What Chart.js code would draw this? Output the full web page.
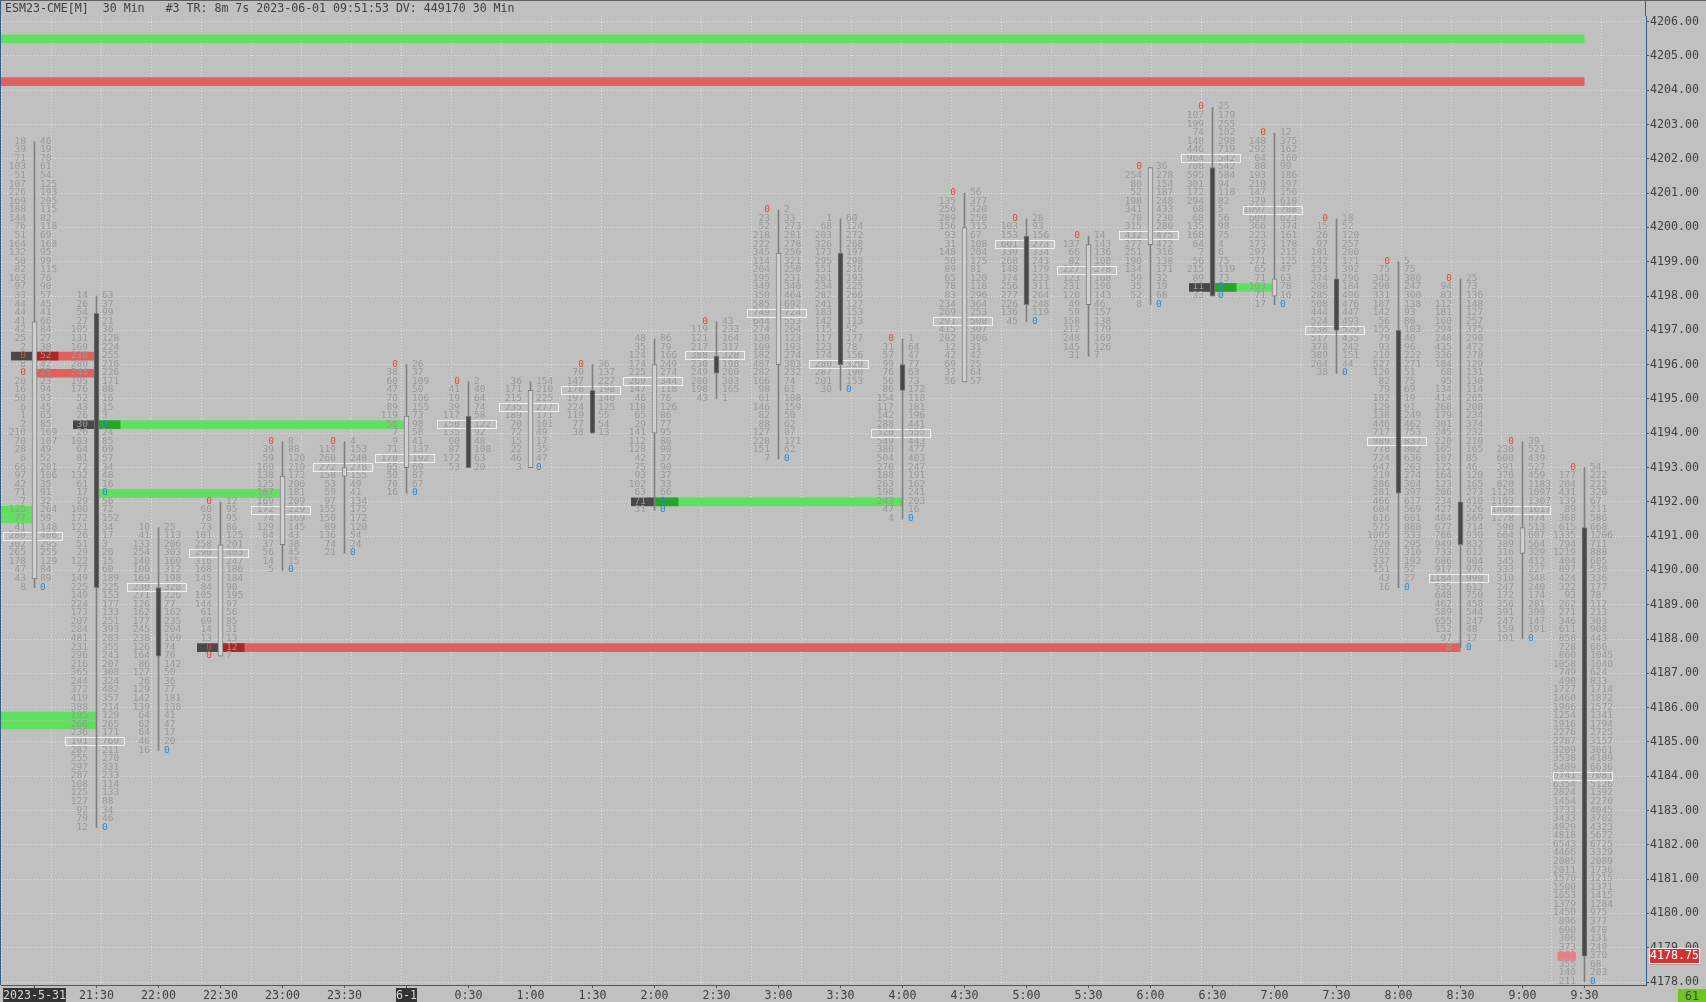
<!DOCTYPE html>
<html>
<head>
    <title>ESM23 Footprint</title>
    <script src="https://cdnjs.cloudflare.com/ajax/libs/Chart.js/4.4.1/chart.umd.js"></script>
    <style>
        html, body { margin: 0; padding: 0; background: #c0c0c0; overflow: hidden; }
        canvas { display: block; }
    </style>
</head>
<body>
    <canvas id="myChart" width="1706" height="1002"></canvas>

    <script>
        var headerText = 'ESM23-CME[M]  30 Min   #3 TR: 8m 7s 2023-06-01 09:51:53 DV: 449170 30 Min';
        var lastPrice = 4178.75;
        var lastLabel = '4178.75';
        var counterLabel = '61';

        var timeLabels = ['2023-5-31', '21:30', '22:00', '22:30', '23:00', '23:30', '6-1', '0:30', '1:00', '1:30', '2:00', '2:30', '3:00',
            '3:30', '4:00', '4:30', '5:00', '5:30', '6:00', '6:30', '7:00', '7:30', '8:00', '8:30', '9:00', '9:30'];

        // price of the first row of each bar, rows go down a quarter point each
        var highPrice = [4202.5, 4198, 4191.25, 4192, 4193.75, 4193.75, 4196, 4195.5, 4195.5, 4196, 4196.75, 4197.25, 4200.5,
            4200.25, 4196.75, 4201, 4200.25, 4199.75, 4201.75, 4203.5, 4202.75, 4200.25, 4199, 4198.5, 4193.75, 4193];
        var openPrice = [4189.75, 4197.5, 4189.5, 4187.5, 4190.75, 4192.75, 4193, 4194.5, 4193, 4195.25, 4194, 4196.25, 4196,
            4199.25, 4196, 4195.5, 4199.75, 4197.75, 4199.5, 4201.75, 4198, 4198.5, 4197, 4192, 4190.5, 4191.25];
        var closePrice = [4197.25, 4189.5, 4187.5, 4190.75, 4192.75, 4193, 4194.5, 4193, 4195.25, 4194, 4196, 4195.75, 4199.25,
            4196, 4195.25, 4200, 4197.75, 4199.5, 4201.75, 4198, 4198.5, 4197, 4192.25, 4190.75, 4191.25, 4178.75];
        var pocPrice = [4191, 4185, 4189.5, 4190.5, 4191.75, 4193, 4193.25, 4194.25, 4194.75, 4195.25, 4195.5, 4196.25, 4197.5,
            4196, 4194, 4197.25, 4199.5, 4198.75, 4199.75, 4202, 4200.5, 4197, 4193.75, 4189.75, 4191.75, 4184];

        var bids = [
            [18, 39, 71, 103, 51, 107, 226, 169, 188, 144, 76, 51, 164, 132, 50, 82, 103, 97, 33, 44, 44, 41, 42, 25, 2, 0, 8, 0, 20, 16, 50, 6, 1, 2, 210, 70, 28, 6, 66, 97, 42, 71, 7, 125, 77, 41, 280, 302, 265, 178, 47, 43, 8],
            [14, 26, 54, 27, 105, 131, 169, 238, 280, 244, 195, 176, 52, 43, 26, 30, 26, 103, 64, 81, 72, 132, 61, 17, 29, 100, 172, 121, 26, 51, 29, 122, 77, 149, 225, 149, 224, 173, 207, 284, 481, 231, 296, 216, 365, 244, 372, 419, 388, 195, 266, 236, 191, 287, 255, 297, 287, 108, 125, 127, 92, 79, 12],
            [10, 41, 133, 254, 140, 100, 169, 230, 271, 126, 162, 177, 245, 238, 126, 164, 86, 127, 26, 129, 142, 139, 64, 62, 64, 46, 16],
            [0, 60, 78, 73, 101, 258, 290, 316, 168, 145, 84, 105, 144, 61, 69, 14, 13, 0, 0],
            [0, 39, 59, 160, 138, 125, 187, 169, 172, 74, 129, 84, 37, 56, 14, 5],
            [0, 119, 260, 272, 158, 53, 59, 97, 155, 150, 89, 136, 74, 21],
            [0, 38, 60, 47, 70, 89, 119, 56, 7, 9, 71, 170, 65, 50, 70, 16],
            [0, 41, 19, 39, 117, 150, 135, 60, 87, 172, 53],
            [36, 171, 215, 235, 189, 70, 72, 15, 22, 46, 3],
            [0, 79, 147, 178, 197, 224, 119, 77, 38],
            [48, 35, 124, 174, 225, 269, 147, 46, 118, 65, 29, 141, 112, 128, 42, 75, 93, 102, 63, 71, 31],
            [0, 119, 121, 217, 388, 230, 249, 280, 198, 43],
            [0, 23, 52, 218, 222, 345, 114, 204, 195, 349, 350, 585, 749, 644, 274, 130, 109, 182, 487, 282, 166, 98, 61, 146, 82, 88, 127, 220, 151, 7],
            [1, 68, 203, 326, 173, 295, 151, 201, 234, 282, 241, 183, 142, 115, 117, 123, 174, 280, 287, 201, 30],
            [0, 31, 57, 99, 76, 56, 86, 154, 117, 142, 288, 520, 549, 380, 504, 270, 188, 263, 198, 243, 47, 4],
            [0, 135, 256, 289, 156, 93, 31, 148, 50, 89, 65, 78, 83, 234, 269, 291, 415, 202, 12, 42, 69, 37, 56],
            [0, 103, 153, 601, 339, 268, 148, 374, 256, 277, 226, 136, 45],
            [0, 137, 66, 82, 227, 123, 231, 120, 49, 59, 158, 212, 248, 145, 31],
            [0, 254, 80, 52, 198, 341, 70, 315, 432, 277, 251, 190, 134, 59, 35, 52, 8],
            [0, 107, 199, 74, 148, 446, 964, 708, 595, 301, 172, 294, 68, 68, 135, 168, 64, 7, 56, 215, 89, 11, 33],
            [0, 148, 292, 64, 80, 193, 210, 147, 379, 1097, 609, 366, 223, 173, 297, 271, 65, 71, 103, 71, 17],
            [0, 15, 26, 97, 181, 142, 253, 374, 208, 285, 508, 444, 524, 538, 517, 378, 389, 204, 38],
            [0, 75, 345, 290, 331, 187, 142, 56, 155, 79, 93, 210, 527, 120, 82, 79, 182, 129, 138, 446, 717, 989, 778, 724, 647, 219, 286, 281, 466, 604, 616, 575, 1005, 720, 292, 337, 151, 43, 16],
            [0, 94, 83, 112, 181, 160, 294, 248, 435, 336, 184, 68, 95, 134, 414, 268, 179, 301, 245, 220, 165, 107, 122, 164, 123, 206, 234, 427, 484, 677, 766, 949, 733, 686, 917, 1184, 535, 648, 462, 589, 655, 152, 97, 8],
            [0, 230, 600, 391, 370, 820, 1128, 1103, 1460, 1278, 590, 664, 389, 316, 345, 333, 310, 247, 172, 356, 391, 247, 159, 191],
            [0, 177, 204, 431, 139, 89, 368, 615, 1335, 794, 1219, 404, 897, 424, 322, 93, 262, 271, 346, 611, 858, 728, 860, 1058, 749, 490, 1727, 1460, 1986, 1254, 1916, 2276, 2787, 3209, 3538, 5489, 6741, 6354, 2824, 1454, 3733, 3433, 4929, 4818, 6543, 4466, 2085, 2011, 1570, 1500, 1653, 1379, 1450, 896, 690, 306, 373, 561, 355, 140, 211]
        ];

        var asks = [
            [46, 19, 70, 61, 54, 125, 193, 205, 115, 82, 118, 69, 168, 95, 99, 115, 76, 90, 57, 45, 41, 66, 84, 27, 30, 52, 42, 25, 23, 94, 93, 45, 65, 85, 169, 107, 49, 52, 201, 106, 35, 91, 32, 264, 59, 148, 406, 295, 255, 129, 84, 89, 0],
            [63, 37, 99, 21, 36, 128, 224, 255, 216, 226, 171, 88, 16, 15, 3, 0, 24, 85, 69, 57, 34, 48, 16, 0, 56, 72, 152, 34, 17, 3, 26, 15, 60, 189, 225, 153, 177, 133, 251, 393, 283, 355, 243, 207, 308, 324, 482, 357, 214, 129, 265, 171, 769, 211, 270, 331, 233, 114, 133, 88, 34, 46, 0],
            [25, 113, 206, 303, 160, 312, 198, 328, 226, 77, 162, 235, 204, 169, 74, 76, 142, 50, 36, 77, 181, 138, 41, 47, 17, 20, 0],
            [12, 95, 95, 86, 125, 201, 403, 247, 186, 184, 90, 195, 97, 56, 85, 31, 13, 12, 7],
            [8, 88, 120, 210, 172, 206, 181, 209, 229, 169, 145, 43, 38, 45, 15, 0],
            [4, 153, 248, 278, 155, 49, 41, 134, 175, 172, 120, 54, 24, 0],
            [26, 37, 109, 50, 106, 155, 73, 98, 58, 41, 137, 192, 69, 87, 67, 0],
            [2, 40, 64, 74, 58, 122, 92, 48, 108, 63, 20],
            [154, 210, 225, 277, 171, 101, 49, 17, 35, 47, 0],
            [36, 137, 227, 198, 140, 125, 55, 54, 13],
            [86, 79, 166, 249, 274, 344, 118, 76, 126, 86, 77, 95, 80, 90, 37, 90, 37, 33, 66, 0, 0],
            [43, 233, 164, 317, 328, 198, 260, 303, 165, 1],
            [2, 33, 273, 281, 278, 250, 321, 250, 231, 340, 464, 692, 724, 553, 264, 123, 193, 274, 303, 232, 74, 61, 188, 159, 50, 62, 87, 171, 62, 0],
            [60, 124, 272, 268, 197, 298, 216, 193, 225, 266, 127, 153, 113, 52, 177, 78, 156, 329, 190, 153, 0],
            [1, 64, 47, 77, 63, 73, 172, 118, 181, 196, 441, 555, 443, 477, 403, 247, 191, 162, 241, 203, 16, 0],
            [56, 377, 320, 250, 315, 67, 108, 204, 175, 81, 120, 118, 296, 364, 253, 500, 307, 306, 31, 42, 25, 64, 57],
            [28, 93, 156, 273, 334, 243, 179, 233, 311, 264, 248, 119, 0],
            [14, 143, 136, 108, 278, 168, 196, 143, 46, 157, 138, 179, 169, 126, 7],
            [36, 278, 154, 187, 248, 433, 230, 280, 475, 472, 316, 138, 171, 32, 19, 68, 0],
            [25, 179, 255, 102, 298, 719, 542, 542, 584, 94, 118, 82, 5, 56, 98, 75, 4, 6, 75, 119, 73, 0, 0],
            [12, 375, 162, 160, 99, 186, 197, 156, 610, 788, 623, 374, 161, 178, 215, 125, 47, 63, 78, 16, 0],
            [18, 52, 120, 257, 200, 171, 392, 296, 184, 496, 476, 447, 493, 529, 435, 242, 151, 44, 0],
            [5, 75, 380, 247, 300, 138, 93, 80, 103, 40, 96, 222, 271, 51, 75, 69, 19, 91, 249, 462, 753, 837, 802, 636, 263, 274, 304, 397, 617, 569, 661, 888, 533, 295, 310, 192, 52, 27, 0],
            [25, 73, 136, 148, 127, 257, 375, 290, 472, 278, 129, 131, 130, 114, 265, 208, 234, 374, 232, 210, 165, 85, 46, 120, 165, 273, 410, 526, 569, 714, 930, 832, 612, 904, 976, 990, 613, 750, 458, 544, 247, 48, 17, 0],
            [39, 521, 439, 527, 459, 1183, 1097, 1307, 1617, 874, 513, 607, 564, 329, 412, 227, 348, 240, 174, 281, 399, 147, 191, 0],
            [54, 222, 222, 320, 67, 211, 586, 668, 1206, 711, 888, 605, 530, 336, 177, 78, 112, 213, 303, 908, 443, 666, 1045, 1040, 624, 833, 1714, 1872, 1572, 1341, 1794, 2725, 3157, 3661, 4189, 6636, 7081, 5126, 1392, 2270, 4045, 3702, 4323, 5672, 6725, 3329, 2089, 1736, 1215, 1371, 1415, 1284, 975, 377, 470, 131, 249, 370, 68, 203, 0]
        ];

        // open levels: price, bar it starts from (-1 = left edge), bar it ends on
        var levelPrice = [4205.5, 4204.25, 4191.75, 4191.5, 4185.75, 4185.5, 4196.25, 4195.75, 4194.25, 4192.25, 4187.75, 4192, 4198.25];
        var levelFrom = [-1, -1, -1, -1, -1, -1, 0, 0, 1, 1, 3, 10, 19];
        var levelTo = [25, 25, 0, 0, 1, 1, 1, 1, 6, 4, 23, 14, 20];
        var levelSide = ['buy', 'sell', 'buy', 'buy', 'buy', 'buy', 'sell', 'sell', 'buy', 'buy', 'sell', 'buy', 'buy'];

        // bars where a level was born, these cells get the dark fill
        var originBar = [0, 1, 3, 10, 19];
        var originPrice = [4196.25, 4194.25, 4187.75, 4192, 4198.25];
        var originSide = ['sell', 'buy', 'sell', 'buy', 'buy'];

        var AXIS_BLUE = '#2f5f8a';
        var CELL_FONT = '9.5px "DejaVu Sans Mono"';
        var AXIS_FONT = { family: 'DejaVu Sans Mono', size: 11.6 };
        var xMin = (1 - 34.5) / 62;
        var xMax = (1646 - 34.5) / 62;

        function wickData() {
            return highPrice.map(function (high, i) {
                return { x: i, y: [high - (bids[i].length - 1) * 0.25, high] };
            });
        }

        function bodyData() {
            return openPrice.map(function (open, i) {
                return { x: i, y: [open, closePrice[i]] };
            });
        }

        var levelSets = levelPrice.map(function (price, i) {
            return {
                type: 'line',
                label: 'level' + i,
                data: [
                    { x: levelFrom[i] < 0 ? xMin : levelFrom[i], y: price },
                    { x: levelTo[i], y: price }
                ],
                borderColor: levelSide[i] === 'buy' ? '#60e060' : '#e06060',
                borderWidth: 8.7,
                borderCapStyle: 'butt',
                pointRadius: 0,
                order: 5
            };
        });

        // Footprint cells: dark origin cells, numbers and the POC boxes, painted under the candles
        var cellPlugin = {
            id: 'cells',
            beforeDatasetDraw: function (chart, args) {
                if (chart.data.datasets[args.index].label !== 'wick') return;
                var ctx = chart.ctx;
                var xs = chart.scales.x;
                var ys = chart.scales.y;
                ctx.save();

                originBar.forEach(function (bar, i) {
                    var cx = xs.getPixelForValue(bar);
                    var y = ys.getPixelForValue(originPrice[i]);
                    ctx.fillStyle = '#484848';
                    ctx.fillRect(cx - 23.5, y - 4.35, 23.5, 8.7);
                    ctx.fillStyle = originSide[i] === 'buy' ? '#28a428' : '#a82828';
                    ctx.fillRect(cx + 0.5, y - 4.35, 23.5, 8.7);
                });

                // last traded row of the running bar
                var lastY = ys.getPixelForValue(lastPrice);
                var lastX = xs.getPixelForValue(25);
                ctx.fillStyle = '#f08080';
                ctx.fillRect(lastX - 27, lastY - 4.35, 18.5, 8.7);

                ctx.font = CELL_FONT;
                ctx.textBaseline = 'middle';
                bids.forEach(function (col, i) {
                    var cx = xs.getPixelForValue(i);
                    col.forEach(function (bid, r) {
                        // whole pixel rows keep the small digits crisp
                        var y = Math.round(ys.getPixelForValue(highPrice[i] - r * 0.25));
                        ctx.textAlign = 'right';
                        ctx.fillStyle = bid === 0 ? '#e04a3c' : '#999999';
                        ctx.fillText(String(bid), cx - 8.5, y);
                        ctx.textAlign = 'left';
                        ctx.fillStyle = asks[i][r] === 0 ? '#2a8cd2' : '#999999';
                        ctx.fillText(String(asks[i][r]), cx + 5.5, y);
                    });
                });

                ctx.strokeStyle = '#f0f0f0';
                ctx.lineWidth = 1;
                pocPrice.forEach(function (price, i) {
                    var cx = xs.getPixelForValue(i);
                    var y = ys.getPixelForValue(price);
                    ctx.strokeRect(Math.round(cx - 31.5) + 0.5, Math.round(y - 4.6) + 0.5, 59, 8);
                });
                ctx.restore();
            },
            afterDraw: function (chart) {
                var ctx = chart.ctx;
                var ys = chart.scales.y;
                ctx.save();

                // frame and header
                ctx.fillStyle = AXIS_BLUE;
                ctx.fillRect(0, 0, 1, 985);
                ctx.fillRect(1645, 0, 1, 16);
                ctx.fillStyle = '#606060';
                ctx.fillRect(0, 0, 1706, 1);
                ctx.font = '11.6px "DejaVu Sans Mono"';
                ctx.fillStyle = '#404040';
                ctx.textAlign = 'left';
                ctx.textBaseline = 'middle';
                ctx.fillText(headerText, 5, 9);

                // the axis labels stop at the bottom of the plot
                ctx.fillStyle = '#c0c0c0';
                ctx.fillRect(1647, 985, 59, 17);

                // last price box
                var y = ys.getPixelForValue(lastPrice);
                ctx.fillStyle = '#d03434';
                ctx.fillRect(1649, y - 8, 51, 16);
                ctx.strokeStyle = '#f0f0f0';
                ctx.strokeRect(1649.5, Math.round(y - 8) + 0.5, 50, 15);
                ctx.fillStyle = '#ffffff';
                ctx.textAlign = 'center';
                ctx.fillText(lastLabel, 1674.5, y);

                // counter in the corner
                ctx.fillStyle = '#6cc81e';
                ctx.fillRect(1678, 989, 28, 13);
                ctx.fillStyle = '#404040';
                ctx.fillText(counterLabel, 1692, 996.5);
                ctx.restore();
            }
        };

        var config = {
            type: 'bar',
            data: {
                datasets: [
                    {
                        label: 'body',
                        data: bodyData(),
                        backgroundColor: openPrice.map(function (open, i) {
                            return closePrice[i] >= open ? '#d0d0d0' : '#484848';
                        }),
                        borderColor: '#7c7c7c',
                        borderWidth: 1,
                        borderSkipped: false,
                        barThickness: 5,
                        grouped: false,
                        order: 1
                    },
                    {
                        label: 'wick',
                        data: wickData(),
                        backgroundColor: '#808080',
                        barThickness: 1,
                        grouped: false,
                        order: 2
                    }
                ].concat(levelSets)
            },
            options: {
                responsive: false,
                animation: false,
                events: [],
                layout: { padding: { left: 1, top: 16 } },
                plugins: { legend: { display: false }, tooltip: { enabled: false } },
                scales: {
                    x: {
                        type: 'linear',
                        position: 'bottom',
                        offset: false,
                        min: xMin,
                        max: xMax,
                        afterFit: function (scale) { scale.height = 17; },
                        grid: { offset: false, drawOnChartArea: false, tickLength: 3, tickColor: AXIS_BLUE },
                        border: { color: AXIS_BLUE },
                        ticks: {
                            stepSize: 1,
                            autoSkip: false,
                            includeBounds: false,
                            maxRotation: 0,
                            padding: 1,
                            font: AXIS_FONT,
                            color: function (c) {
                                return Math.round(c.tick.value) === 0 || Math.round(c.tick.value) === 6 ? '#d8d8d8' : '#404040';
                            },
                            showLabelBackdrop: function (c) {
                                return Math.round(c.tick.value) === 0 || Math.round(c.tick.value) === 6;
                            },
                            backdropColor: '#333333',
                            backdropPadding: { top: 1, bottom: 3, left: 0, right: 0 },
                            callback: function (value) { return timeLabels[Math.round(value)]; }
                        }
                    },
                    // dotted vertical grid, every 50 pixels and not tied to the time ticks
                    gridX: {
                        type: 'linear',
                        position: 'bottom',
                        offset: false,
                        min: -0.5,
                        max: 1644.5,
                        afterFit: function (scale) { scale.height = 0; },
                        grid: { offset: false, color: '#dedede', drawTicks: false },
                        border: { display: false, dash: [1, 2] },
                        ticks: { display: false, stepSize: 50, autoSkip: false, includeBounds: false }
                    },
                    y: {
                        type: 'linear',
                        position: 'right',
                        min: 4177.913,
                        max: 4206.166,
                        afterFit: function (scale) { scale.width = 60; },
                        grid: { color: '#dedede', tickLength: 3, tickColor: AXIS_BLUE },
                        border: { color: AXIS_BLUE, dash: [1, 2] },
                        ticks: {
                            stepSize: 1,
                            autoSkip: false,
                            includeBounds: false,
                            padding: 1,
                            font: AXIS_FONT,
                            color: '#404040',
                            callback: function (value) { return value.toFixed(2); }
                        }
                    }
                }
            },
            plugins: [cellPlugin]
        };

        var ctx = document.getElementById('myChart').getContext('2d');
        var chart = new Chart(ctx, config);
    </script>
</body>
</html>
